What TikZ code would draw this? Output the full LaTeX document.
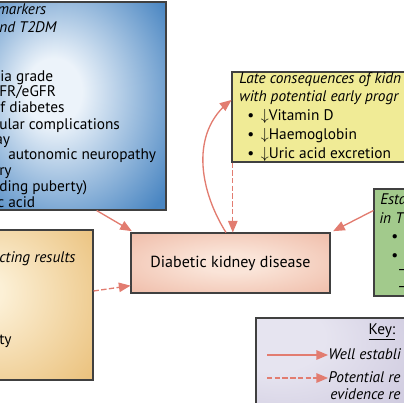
\documentclass[tikz,border=0pt]{standalone}
\usepackage{fontspec}
\setmainfont{PT Sans}
\usepackage{amssymb}
\usepackage{tikz}
\usetikzlibrary{arrows}
\usepackage{xcolor}

\definecolor{boxblue}{RGB}{74,134,194}
\definecolor{paleblue}{RGB}{236,243,250}
\definecolor{boxorange}{RGB}{234,192,122}
\definecolor{paleorange}{RGB}{252,240,214}
\definecolor{boxpink}{RGB}{236,176,154}
\definecolor{palepink}{RGB}{250,228,216}
\definecolor{boxyellow}{RGB}{240,235,150}
\definecolor{boxgreen}{RGB}{162,202,140}
\definecolor{boxlilac}{RGB}{192,186,212}
\definecolor{palelilac}{RGB}{230,228,240}
\definecolor{arrowred}{RGB}{226,124,112}

\pgfdeclareradialshading{blueglow}{\pgfpoint{-8bp}{4bp}}{color(0bp)=(paleblue); color(8bp)=(paleblue); color(36bp)=(boxblue); color(60bp)=(boxblue)}
\pgfdeclareradialshading{orangeglow}{\pgfpoint{-12bp}{5bp}}{color(0bp)=(paleorange); color(6bp)=(paleorange); color(40bp)=(boxorange); color(60bp)=(boxorange)}
\pgfdeclareradialshading{pinkglow}{\pgfpoint{0bp}{0bp}}{color(0bp)=(palepink); color(8bp)=(palepink); color(45bp)=(boxpink); color(60bp)=(boxpink)}
\pgfdeclareradialshading{lilacglow}{\pgfpoint{-25bp}{20bp}}{color(0bp)=(palelilac); color(15bp)=(palelilac); color(55bp)=(boxlilac); color(80bp)=(boxlilac)}

\tikzset{
  box/.style={draw=black!75, line width=0.8pt, rectangle, inner sep=0pt},
  txt/.style={anchor=base west, inner sep=0pt, font=\fontsize{11.5}{13}\selectfont},
  ttl/.style={anchor=base west, inner sep=0pt, font=\fontsize{11.5}{13}\selectfont\itshape},
  link/.style={draw=arrowred, line width=1pt, -triangle 45},
  maybe/.style={link, dash pattern=on 4pt off 1.8pt},
}

\begin{document}
\begin{tikzpicture}[x=0.75pt,y=-0.75pt]
\useasboundingbox (0,0) rectangle (403,403);

\node[box, shading=blueglow, minimum width=132pt, minimum height=156pt] (markers) at (78,106) {};
\node[box, shading=orangeglow, minimum width=114.75pt, minimum height=112.5pt] (confound) at (16.5,305) {};
\node[box, shading=pinkglow, minimum width=149.25pt, minimum height=45pt] (dkd) at (230.5,263) {};
\node[box, fill=boxyellow, minimum width=148.5pt, minimum height=67.5pt] (late) at (331,117) {};
\node[box, fill=boxgreen, minimum width=42pt, minimum height=80.25pt] (estab) at (402,242.5) {};
\node[box, shading=lilacglow, minimum width=130.5pt, minimum height=84pt] (key) at (343,374) {};

\node[ttl] (m1) at (-3,15) {markers};
\node[ttl] (m2) at (-1,33) {nd T2DM};
\node[txt] (m3) at (0,82) {ia grade};
\node[txt] (m4) at (-1,97) {FR/eGFR};
\node[txt] (m5) at (0,113) {f diabetes};
\node[txt] (m6) at (-1,129) {ular complications};
\node[txt] (m7) at (-5,144) {ay};
\node[txt] (m8) at (8,159) {autonomic neuropathy};
\node[txt] (m9) at (-1,175) {ry};
\node[txt] (m10) at (-1,191) {ding puberty)};
\node[txt] (m11) at (-3,207) {c acid};

\node[ttl] (c1) at (-1,262) {cting results};
\node[txt] (c2) at (-1,344) {ty};

\node[txt, anchor=center, font=\fontsize{12}{14}\selectfont] (dkdtxt) at (dkd) {Diabetic kidney disease};

\node[ttl] (l1) at (239,84) {Late consequences of kidn};
\node[ttl] (l2) at (239,101) {with potential early progr};
\node[txt] (l3) at (247,120) {\textbullet\hspace{5pt}$\downarrow$Vitamin D};
\node[txt] (l4) at (247,139) {\textbullet\hspace{5pt}$\downarrow$Haemoglobin};
\node[txt] (l5) at (247,158) {\textbullet\hspace{5pt}$\downarrow$Uric acid excretion};

\node[ttl] (e1) at (380,204) {Esta};
\node[ttl] (e2) at (379,223) {in T};
\node[txt] (e3) at (391,241) {\textbullet};
\node[txt] (e4) at (391,260) {\textbullet};
\node[txt] (e5) at (397,274) {--};
\node[txt] (e6) at (397,291) {--};

\node[txt, anchor=center] (keytxt) at (382,332) {\underline{Key:}};
\node[ttl] (k1) at (328,359) {Well establi};
\node[ttl] (k2) at (328,382) {Potential re};
\node[ttl] (k3) at (330,399) {evidence re};
\coordinate (ka) at (267,355);
\coordinate (kb) at (267,378);

\draw[link] ([xshift=14pt]markers.south) -- ([xshift=1pt,yshift=1pt]dkd.north west);
\draw[link] ([xshift=-3.4pt]dkd.north) to[out=122, in=218] ([yshift=12.75pt]late.west);
\draw[maybe] ([xshift=1pt]late.south west) -- ([xshift=1pt]late.south west |- dkd.north);
\draw[link] ([yshift=24pt]estab.west) -- ([xshift=2pt,yshift=1pt]dkd.north east);
\draw[maybe] ([yshift=10.5pt]confound.east) -- ([yshift=-17pt]dkd.west);
\draw[link] (ka) -- (k1.west |- ka);
\draw[maybe] (kb) -- (k2.west |- kb);

\end{tikzpicture}
\end{document}
